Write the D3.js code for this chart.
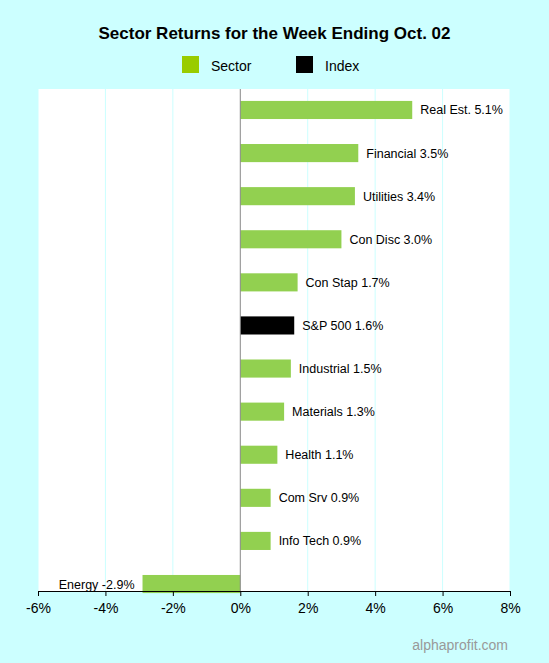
<!DOCTYPE html>
<html><head><meta charset="utf-8">
<script src="https://cdn.jsdelivr.net/npm/d3@7"></script>
<style>body{margin:0;background:#ccffff;font-family:"Liberation Sans",Arial,sans-serif}</style>
</head><body><div id="chart"></div>
<script>
const labels = ["Real Est.", "Financial", "Utilities", "Con Disc", "Con Stap", "S&P 500", "Industrial", "Materials", "Health", "Com Srv", "Info Tech", "Energy"];
const returns = [5.1, 3.5, 3.4, 3.0, 1.7, 1.6, 1.5, 1.3, 1.1, 0.9, 0.9, -2.9];
const isIndex = [false, false, false, false, false, true, false, false, false, false, false, false];
const ticks = [-6, -4, -2, 0, 2, 4, 6, 8];

const W = 549, H = 663;
const svg = d3.select("#chart").append("svg").attr("width", W).attr("height", H);
svg.append("rect").attr("width", W).attr("height", H).attr("fill", "#ccffff");

const x = d3.scaleLinear().domain([-6, 8]).range([38, 510]);
const y = d3.scaleBand().domain(labels).range([88, 606]).paddingInner(0.58).paddingOuter(0.3);

svg.append("rect").attr("x", 38).attr("y", 89).attr("width", 472).attr("height", 502).attr("fill", "#fff");

svg.append("g").selectAll("line").data(ticks.filter(t => t !== 0)).join("line")
  .attr("x1", d => x(d)).attr("x2", d => x(d)).attr("y1", 89).attr("y2", 591)
  .attr("stroke", "#ccffff");

svg.append("text").attr("x", W / 2).attr("y", 39).attr("text-anchor", "middle")
  .attr("font-size", 17).attr("font-weight", "bold").text("Sector Returns for the Week Ending Oct. 02");

const leg = [["Sector", "#99cc00", 182], ["Index", "#000", 296]];
leg.forEach(([t, c, lx]) => {
  svg.append("rect").attr("x", lx).attr("y", 56).attr("width", 17).attr("height", 17).attr("fill", c);
  svg.append("text").attr("x", lx + 29).attr("y", 71).attr("font-size", 14).text(t);
});

labels.forEach((l, i) => {
  const v = returns[i];
  svg.append("rect").attr("x", x(Math.min(0, v))).attr("y", y(l))
    .attr("width", Math.abs(x(v) - x(0))).attr("height", y.bandwidth())
    .attr("fill", isIndex[i] ? "#000" : "#92d050");
  svg.append("text").attr("font-size", 12.5)
    .attr("x", v >= 0 ? x(v) + 8 : x(v) - 8).attr("y", y(l) + y.bandwidth() / 2 + 4.5)
    .attr("text-anchor", v >= 0 ? "start" : "end")
    .text(l + " " + v.toFixed(1) + "%");
});

svg.append("line").attr("x1", x(0)).attr("x2", x(0)).attr("y1", 89).attr("y2", 591).attr("stroke", "#888");

const ax = svg.append("g").attr("transform", "translate(0,591)")
  .call(d3.axisBottom(x).tickValues(ticks).tickFormat(d => d + "%").tickSize(5));
ax.select(".domain").attr("stroke", "#000");
ax.selectAll("text").attr("font-size", 14).attr("font-family", "Liberation Sans, Arial").attr("dy", "1.0em");

svg.append("text").attr("x", 508).attr("y", 650).attr("text-anchor", "end")
  .attr("font-size", 14).attr("fill", "#999").text("alphaprofit.com");
</script></body></html>
